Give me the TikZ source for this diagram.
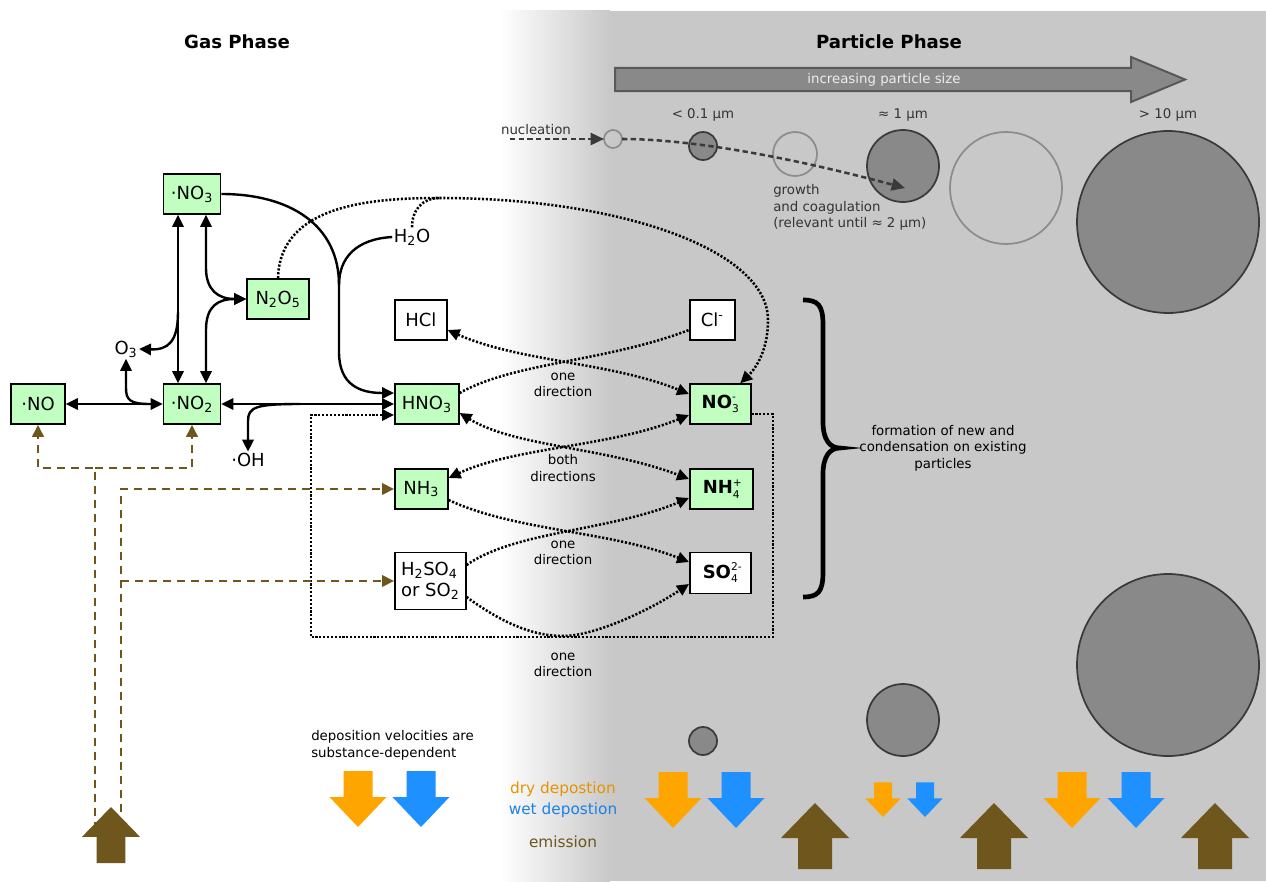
\documentclass[tikz,border=0pt]{standalone}
\usepackage{fontspec}
\setmainfont{DejaVu Sans}
\usetikzlibrary{positioning,arrows.meta}

\definecolor{gasgreen}{RGB}{192,255,192}
\definecolor{bggray}{RGB}{200,200,200}
\definecolor{partfill}{RGB}{137,137,137}
\definecolor{partdark}{RGB}{58,58,58}
\definecolor{partlight}{RGB}{140,140,140}
\definecolor{drycol}{RGB}{255,165,0}
\definecolor{wetcol}{RGB}{30,144,255}
\definecolor{emiscol}{RGB}{110,86,28}
\definecolor{labelgray}{RGB}{51,51,51}

\newcommand{\titlesize}{\fontsize{13.6}{16}\selectfont\bfseries}
\newcommand{\chemsize}{\fontsize{13.5}{16}\selectfont}
\newcommand{\smallsize}{\fontsize{10}{12.4}\selectfont}
\newcommand{\legendsize}{\fontsize{11.5}{14}\selectfont}
\newcommand{\idxsize}{\fontsize{8}{9}\selectfont\mdseries}
\newcommand{\chg}[2]{\rlap{\raisebox{0.42em}{\idxsize #2}}\raisebox{-0.25em}{\idxsize #1}}

\tikzset{
  >={Triangle[length=9pt,width=8.5pt]},
  gasbox/.style={draw, line width=1.2pt, fill=gasgreen, font=\chemsize,
    minimum height=30pt, inner xsep=4pt},
  ionbox/.style={gasbox, fill=white},
  chemlabel/.style={font=\chemsize, inner sep=1pt},
  note/.style={font=\smallsize, align=center},
  sizelabel/.style={font=\smallsize, text=labelgray},
  react/.style={line width=1.8pt},
  dotline/.style={line width=1.9pt, dash pattern=on 1.6pt off 1.3pt},
  emisline/.style={draw=emiscol, line width=2.1pt, dash pattern=on 6pt off 4.5pt},
  growline/.style={draw=partdark, line width=1.9pt, dash pattern=on 4pt off 2.5pt},
  pfull/.style={fill=partfill, draw=partdark, line width=1.3pt},
  pempty/.style={draw=partlight, line width=1.3pt},
  pics/fatdown/.style={code={\fill[#1] (-14.5,-56) -- (14.5,-56) -- (14.5,-30)
    -- (28.5,-30) -- (0,0) -- (-28.5,-30) -- (-14.5,-30) -- cycle;}},
  pics/fatup/.style={code={\fill[#1] (-17,66) -- (17,66) -- (17,35)
    -- (34,35) -- (0,0) -- (-34,35) -- (-17,35) -- cycle;}}
}

\begin{document}
\begin{tikzpicture}[x=0.75pt,y=-0.75pt]
\useasboundingbox (0,0) rectangle (1266,881);
\fill[white] (0,0) rectangle (1266,881);
\shade[left color=white, right color=bggray] (500,11) rectangle (610,881);
\fill[bggray] (609.5,11) rectangle (1266,881);

\node[font=\titlesize] (gastitle) at (237,42) {Gas Phase};
\node[font=\titlesize] (parttitle) at (889,42) {Particle Phase};

% particle sizes
\draw[fill=partfill, draw=partdark!85, line width=1.5pt] (615,68) -- (1131,68) -- (1131,57)
  -- (1185,79.5) -- (1131,102) -- (1131,91) -- (615,91) -- cycle;
\node[font=\smallsize, text=white!93!black] (sizetext) at (884,79.5) {increasing particle size};
\node[sizelabel] (size1) at (703,115) {< 0.1 µm};
\node[sizelabel] (size2) at (903,115) {≈ 1 µm};
\node[sizelabel] (size3) at (1168,115) {> 10 µm};

\draw[pempty] (613,139) circle[radius=9];
\draw[pfull] (703,146) circle[radius=14];
\draw[pempty] (795,154) circle[radius=22];
\draw[pfull] (903,166) circle[radius=36];
\draw[pempty] (1006,188) circle[radius=56];
\draw[pfull] (1168,222) circle[radius=91];
\draw[pfull] (703,741) circle[radius=14];
\draw[pfull] (903,720) circle[radius=36];
\draw[pfull] (1168,665) circle[radius=91];

\node[sizelabel] (nuclab) at (536,130) {nucleation};
\coordinate (nucstart) at (510,139);
\coordinate (nucend) at (604,139);
\coordinate (growstart) at (622,139);
\coordinate (growend) at (905,188);
\draw[growline,-{Triangle[length=10pt,width=9pt]}] (nucstart) -- (nucend);
\draw[growline,-{Triangle[length=10pt,width=9pt]}] (growstart) .. controls (680,139) and (770,152) .. (growend);
\node[sizelabel, align=left, anchor=west, inner sep=0pt] (growlab) at (773,207.5)
  {growth\\and coagulation\\(relevant until ≈ 2 µm)};

% gas phase species
\node[gasbox, minimum width=42.75pt] (no3) at (192,194) {·NO\textsubscript{3}};
\node[gasbox, minimum width=42.75pt] (no2) at (192,404) {·NO\textsubscript{2}};
\node[gasbox, minimum width=40.5pt] (no) at (38,404) {·NO};
\node[gasbox, minimum width=46.5pt] (n2o5) at (278,299) {N\textsubscript{2}O\textsubscript{5}};
\node[gasbox, minimum width=48pt, anchor=west] (hno3) at (394,404) {HNO\textsubscript{3}};
\node[ionbox, minimum width=39pt, above=63pt of hno3.west, anchor=west] (hcl) {HCl};
\node[gasbox, minimum width=39.75pt, below=63.75pt of hno3.west, anchor=west] (nh3) {NH\textsubscript{3}};
\node[ionbox, minimum width=53.25pt, minimum height=42.75pt, align=left,
  below=69pt of nh3.west, anchor=west] (h2so4) {H\textsubscript{2}SO\textsubscript{4}\\or SO\textsubscript{2}};

\node[gasbox, minimum width=45.75pt, anchor=west, font=\chemsize\bfseries] (no3m) at (689,404) {NO\chg{3}{-}};
\node[ionbox, minimum width=33.75pt, above=63pt of no3m.west, anchor=west] (clm) {Cl\textsuperscript{-}};
\node[gasbox, minimum width=47.25pt, below=63.75pt of no3m.west, anchor=west,
  font=\chemsize\bfseries] (nh4) {NH\chg{4}{+}};
\node[ionbox, minimum width=45.75pt, minimum height=30.75pt, below=63pt of nh4.west,
  anchor=west, font=\chemsize\bfseries] (so4) {SO\chg{4}{2-}};

\node[chemlabel] (o3) at (126,349) {O\textsubscript{3}};
\node[chemlabel] (oh) at (248,460) {·OH};
\node[chemlabel] (h2o) at (412,237) {H\textsubscript{2}O};

% gas phase reactions
\coordinate (h2ojoin) at (339,285);
\coordinate (o3split) at (178,312);
\coordinate (o3low) at (150,404);
\coordinate (ohsplit) at (300,404);
\draw[react,<->] (no.east) -- (no2.west);
\draw[react,<->] ([xshift=-10.5pt]no3.south) -- ([xshift=-10.5pt]no2.north);
\draw[react,->] (o3split) .. controls (178,342) and (168,350) .. (o3.east);
\draw[react,->] (o3low) .. controls (130,404) and (126,400) .. (126,388) -- (o3.south);
\draw[react,<->] ([xshift=10.5pt]no3.south) -- (206,268) .. controls (206,290) and (218,299) .. (n2o5.west);
\draw[react,<->] ([xshift=10.5pt]no2.north) -- (206,330) .. controls (206,306) and (218,299) .. (n2o5.west);
\draw[react,->] (no3.east) .. controls (290,194) and (339,225) .. (h2ojoin) -- (339,352)
  .. controls (339,385) and (360,393) .. ([yshift=8.25pt]hno3.west);
\draw[react] (h2o.west) .. controls (356,239) and (339,258) .. (h2ojoin);
\draw[react,<->] (no2.east) -- (hno3.west);
\draw[react,->] (ohsplit) .. controls (256,404) and (248,407) .. (248,421) -- (oh.north);

% exchange with the particle phase
\coordinate (archtop) at (440,198);
\coordinate (sobot) at (563,636);
\draw[dotline,->] (n2o5.north) .. controls (280,205) and (370,198) .. (archtop)
  .. controls (620,198) and (768,250) .. (768,320) .. controls (768,355) and (752,372) .. ([xshift=15pt]no3m.north);
\draw[dotline] (h2o.north) .. controls (412,210) and (422,198) .. (archtop);
\draw[dotline,<->] ([yshift=-7.5pt]hcl.east) .. controls (520,362) and (610,362) .. ([yshift=7.5pt]no3m.west);
\draw[dotline] ([yshift=8.25pt]hno3.east) .. controls (515,362) and (605,362) .. ([yshift=-7.5pt]clm.west);
\draw[dotline,<->] ([yshift=-6.75pt]hno3.east) .. controls (515,447) and (605,447) .. ([yshift=7.5pt]nh4.west);
\draw[dotline,<->] ([yshift=8.25pt]nh3.east) .. controls (515,447) and (610,447) .. ([yshift=-8.25pt]no3m.west);
\draw[dotline,->] ([yshift=-8.25pt]nh3.east) .. controls (515,531) and (610,531) .. ([yshift=8.25pt]so4.west);
\draw[dotline,->] ([yshift=12pt]h2so4.east) .. controls (515,531) and (610,531) .. ([yshift=-6.75pt]nh4.west);
\draw[dotline,->] ([yshift=-12pt]h2so4.east) .. controls (505,625) and (535,636) .. (sobot)
  .. controls (595,636) and (650,610) .. ([yshift=-8.25pt]so4.west);
\draw[dotline,->] ([yshift=-7.5pt]no3m.east) -| (773,637) -| (311,415) -- ([yshift=-8.25pt]hno3.west);

\node[note] (lab1) at (563,385) {one\\direction};
\node[note] (lab2) at (563,468) {both\\directions};
\node[note] (lab3) at (563,553) {one\\direction};
\node[note] (lab4) at (563,665) {one\\direction};

\draw[line width=3.5pt] (803,300) .. controls (818,300) and (823,305) .. (823,325) -- (823,422)
  .. controls (823,440) and (830,448) .. (840,448) .. controls (830,448) and (823,456) .. (823,474)
  -- (823,572) .. controls (823,592) and (818,597) .. (803,597);
\node[note] (formlab) at (943,448) {formation of new and\\condensation on existing\\particles};

% emission and deposition
\draw[emisline,->] (95,830) -- (95,468) -| (no.south);
\draw[emisline,->] (95,468) -| (no2.south);
\draw[emisline,->] (121,812) |- (nh3.west);
\draw[emisline,->] (121,581) -- (h2so4.west);
\pic[scale=0.85] at (111,807) {fatup=emiscol};

\node[font=\fontsize{10}{12.6}\selectfont, align=left, anchor=west, inner sep=0pt] (depnote) at (311,745)
  {deposition velocities are\\substance-dependent};
\pic at (358,827) {fatdown=drycol};
\pic at (421,827) {fatdown=wetcol};
\node[font=\legendsize, text=drycol!90!black] (drylab) at (563,789) {dry depostion};
\node[font=\legendsize, text=wetcol!90!black] (wetlab) at (563,810) {wet depostion};
\node[font=\legendsize, text=emiscol] (emislab) at (563,842) {emission};

\pic at (673,828) {fatdown=drycol};
\pic at (736,828) {fatdown=wetcol};
\pic at (815,803) {fatup=emiscol};
\pic[scale=0.62] at (883,817) {fatdown=drycol};
\pic[scale=0.62] at (925,817) {fatdown=wetcol};
\pic at (994,803) {fatup=emiscol};
\pic at (1072,828) {fatdown=drycol};
\pic at (1136,828) {fatdown=wetcol};
\pic at (1215,803) {fatup=emiscol};
\end{tikzpicture}
\end{document}
